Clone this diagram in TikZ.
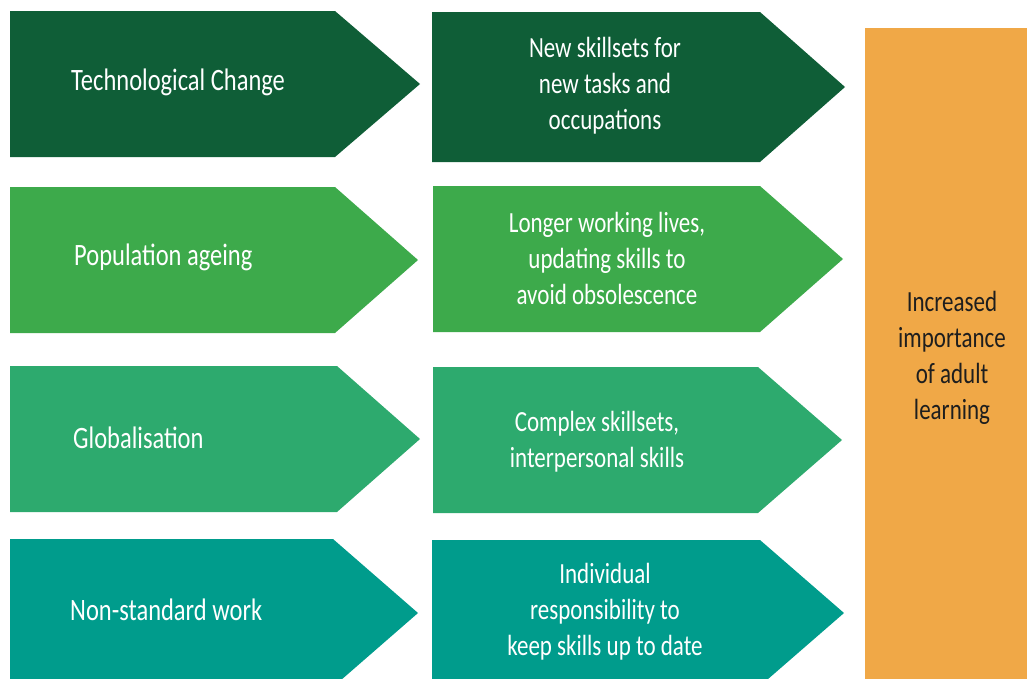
\documentclass[tikz,border=0pt]{standalone}
\usepackage{fontspec}
\usepackage{graphicx}
\setmainfont{Carlito}
\definecolor{gA}{HTML}{0F5E37}
\definecolor{gB}{HTML}{3DAA4B}
\definecolor{gC}{HTML}{2DAA6E}
\definecolor{gD}{HTML}{009C8C}
\definecolor{orng}{HTML}{F0A847}
\definecolor{ink}{HTML}{1E1E1E}
\newcommand\chev[6]{\fill[#6] (#1,#2) -- (#4,#2) -- (#5,{(#2+#3)/2}) -- (#4,#3) -- (#1,#3) -- cycle;}
\newcommand\tall[2]{\scalebox{1}[1.27]{\setlength{\tabcolsep}{0pt}\begin{tabular}{#1}#2\end{tabular}}}
\tikzset{
  lbl/.style={text=white, inner sep=0pt},
  lefttxt/.style={lbl, anchor=west, font=\fontsize{24.5}{28.3}\selectfont},
  righttxt/.style={lbl, font=\fontsize{23}{28.3}\selectfont},
  sidetxt/.style={text=ink, font=\fontsize{23}{28.3}\selectfont, inner sep=0pt}
}
\begin{document}
\begin{tikzpicture}[x=1pt,y=-1pt]
\useasboundingbox (0,0) rectangle (1027,678);
\clip (0,0) rectangle (1027,678);
% left column
\chev{10}{11}{157}{335}{420}{gA}
\chev{10}{187}{333}{335}{418}{gB}
\chev{10}{366}{512}{337}{420}{gC}
\chev{10}{539}{687}{333}{418}{gD}
% right column
\chev{432}{12}{162}{760}{845}{gA}
\chev{433}{186}{332}{760}{843}{gB}
\chev{433}{367}{513}{758}{842}{gC}
\chev{432}{540}{686}{760}{844}{gD}
% orange block
\fill[orng] (865,28) rectangle (1040,700);
% texts
\node[lefttxt] (t1) at (71,83) {\tall{l}{Technological Change}};
\node[lefttxt] (t2) at (74,258) {\tall{l}{Population ageing}};
\node[lefttxt] (t3) at (73,441) {\tall{l}{Globalisation}};
\node[lefttxt] (t4) at (70,613) {\tall{l}{Non-standard work}};
\node[righttxt] (r1) at (605,86) {\tall{c}{New skillsets for\\new tasks and\\occupations}};
\node[righttxt] (r2) at (607,261) {\tall{c}{Longer working lives,\\updating skills to\\avoid obsolescence}};
\node[righttxt] (r3) at (597,442) {\tall{c}{Complex skillsets,\\interpersonal skills}};
\node[righttxt] (r4) at (605,612) {\tall{c}{Individual\\responsibility to\\keep skills up to date}};
\node[sidetxt] (s) at (952,358.5) {\tall{c}{Increased\\importance\\of adult\\learning}};
\end{tikzpicture}
\end{document}
